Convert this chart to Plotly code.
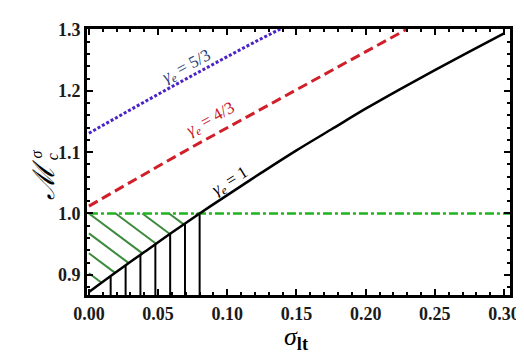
import numpy as np
import plotly.graph_objects as go

# ---- data ----
x_black = [0.0, 0.02, 0.04, 0.06, 0.08, 0.10, 0.125, 0.15, 0.175, 0.20, 0.225, 0.25, 0.275, 0.30]
y_black = [0.872, 0.905, 0.937, 0.969, 1.000, 1.030, 1.067, 1.103, 1.137, 1.171, 1.203, 1.234, 1.264, 1.294]

x_red = [0.0, 0.025, 0.05, 0.075, 0.10, 0.125, 0.15, 0.175, 0.20, 0.225, 0.23]
y_red = [1.012, 1.045, 1.077, 1.109, 1.140, 1.171, 1.202, 1.233, 1.264, 1.295, 1.301]

x_blue = [0.0, 0.02, 0.04, 0.06, 0.08, 0.10, 0.12, 0.14]
y_blue = [1.131, 1.157, 1.182, 1.207, 1.232, 1.256, 1.280, 1.303]

x_green = [0.0, 0.31]
y_green = [1.0, 1.0]

# hatch decoration
x_vert_hatch = [0.0157, 0.0265, 0.0372, 0.048, 0.0587, 0.0694, 0.080]
hatch_dy = 0.0325   # vertical spacing of diagonal hatch
hatch_dx = 0.0193   # horizontal spacing of diagonal hatch on the 1.0 line

labels = ["<i>γ<sub>e</sub></i> = 5/3", "<i>γ<sub>e</sub></i> = 4/3", "<i>γ<sub>e</sub></i> = 1"]
x_ticks = [0.0, 0.05, 0.10, 0.15, 0.20, 0.25, 0.30]
y_ticks = [0.9, 1.0, 1.1, 1.2, 1.3]

XR = [-0.0014, 0.3043]
YR = [0.867, 1.301]

fig = go.Figure()

# diagonal green hatch (above curve, below 1.0)
grid = np.linspace(0, 0.1, 4001)
curve = np.interp(grid, x_black, y_black)
slope = hatch_dy / hatch_dx
hx, hy = [], []
for k in range(-6, 6):
    if k < 0:
        x0, y0 = -k * hatch_dx, 1.0
    else:
        x0, y0 = 0.0, 1.0 - k * hatch_dy
    if np.interp(x0, x_black, y_black) >= y0:
        continue
    line = y0 - slope * (grid - x0)
    diff = line - curve
    idx = np.where((grid >= x0) & (diff <= 0))[0]
    if len(idx) == 0:
        continue
    xe = grid[idx[0]]
    hx += [x0, xe, None]
    hy += [y0, y0 - slope * (xe - x0), None]
fig.add_trace(go.Scatter(x=hx, y=hy, mode="lines", line=dict(color="#3d8a3d", width=2),
                         hoverinfo="skip", showlegend=False))

# vertical black hatch (below curve)
vx, vy = [], []
for xv in x_vert_hatch:
    vx += [xv, xv, None]
    vy += [YR[0], float(np.interp(xv, x_black, y_black)), None]
fig.add_trace(go.Scatter(x=vx, y=vy, mode="lines", line=dict(color="black", width=2),
                         hoverinfo="skip", showlegend=False))

fig.add_trace(go.Scatter(x=x_green, y=y_green, mode="lines",
                         line=dict(color="#1fb31f", width=2.5, dash="9px,3px,3px,3px"), showlegend=False))
fig.add_trace(go.Scatter(x=x_blue, y=y_blue, mode="lines",
                         line=dict(color="#4a23c8", width=3, dash="3px,2px"), showlegend=False))
fig.add_trace(go.Scatter(x=x_red, y=y_red, mode="lines",
                         line=dict(color="#d11f2a", width=3, dash="10px,5px"), showlegend=False))
fig.add_trace(go.Scatter(x=x_black, y=y_black, mode="lines", line=dict(color="black", width=2.5, shape="spline"),
                         showlegend=False))

W, H = 524, 355
L, R, T, B = 79, 18, 21, 68
pw, ph = W - L - R, H - T - B

def px2paper(px, py):
    return (px - L) / pw, (H - B - py) / ph

serif = "Liberation Serif, Times New Roman, DejaVu Serif, serif"

ann = []
for (tx, ty, txt, col, ang) in [(0.071, 1.239, labels[0], "#2b3f7e", -28),
                                (0.088, 1.153, labels[1], "#c8141e", -29),
                                (0.102, 1.052, labels[2], "black", -32)]:
    ann.append(dict(x=tx, y=ty, xref="x", yref="y", text=txt, showarrow=False, textangle=ang,
                    xanchor="center", yanchor="middle",
                    font=dict(family=serif, size=17, color=col)))

# y axis label: script M with sub c and sup sigma
mx, my = px2paper(35, 172)
ann.append(dict(x=mx, y=my, xref="paper", yref="paper", text="<i>ℳ</i>", showarrow=False, textangle=-90,
                xanchor="center", yanchor="middle",
                font=dict(family=serif, size=30, color="black")))
sx, sy = px2paper(28, 146)
ann.append(dict(x=sx, y=sy, xref="paper", yref="paper", text="<i>σ</i>", showarrow=False, textangle=-90,
                xanchor="center", yanchor="middle",
                font=dict(family=serif, size=16, color="black")))
cx, cy = px2paper(44, 149)
ann.append(dict(x=cx, y=cy, xref="paper", yref="paper", text="<i>c</i>", showarrow=False, textangle=-90,
                xanchor="center", yanchor="middle",
                font=dict(family=serif, size=16, color="black")))
# x axis label
ax_, ay_ = px2paper(290, 330)
ann.append(dict(x=ax_, y=ay_, xref="paper", yref="paper",
                text="<i>σ</i><sub><b>lt</b></sub>", showarrow=False,
                xanchor="center", yanchor="middle",
                font=dict(family=serif, size=26, color="black")))

axis_common = dict(showline=True, linecolor="black", linewidth=3, mirror="allticks",
                   ticks="inside", ticklen=6, tickwidth=2, tickcolor="black",
                   showgrid=False, zeroline=False,
                   tickfont=dict(family=serif, size=18, color="#1a1a1a", weight="bold"))

fig.update_layout(
    width=W, height=H, margin=dict(l=L, r=R, t=T, b=B),
    plot_bgcolor="white", paper_bgcolor="white",
    xaxis=dict(range=XR, tickvals=x_ticks, tickformat=".2f",
               minor=dict(dtick=0.01, tick0=0, ticks="inside", ticklen=3, tickwidth=1.5, tickcolor="black"),
               **axis_common),
    yaxis=dict(range=YR, tickvals=y_ticks, tickformat=".1f",
               minor=dict(dtick=0.02, tick0=0.9, ticks="inside", ticklen=3, tickwidth=1.5, tickcolor="black"),
               **axis_common),
    annotations=ann,
)

fig.write_html("out.html")
